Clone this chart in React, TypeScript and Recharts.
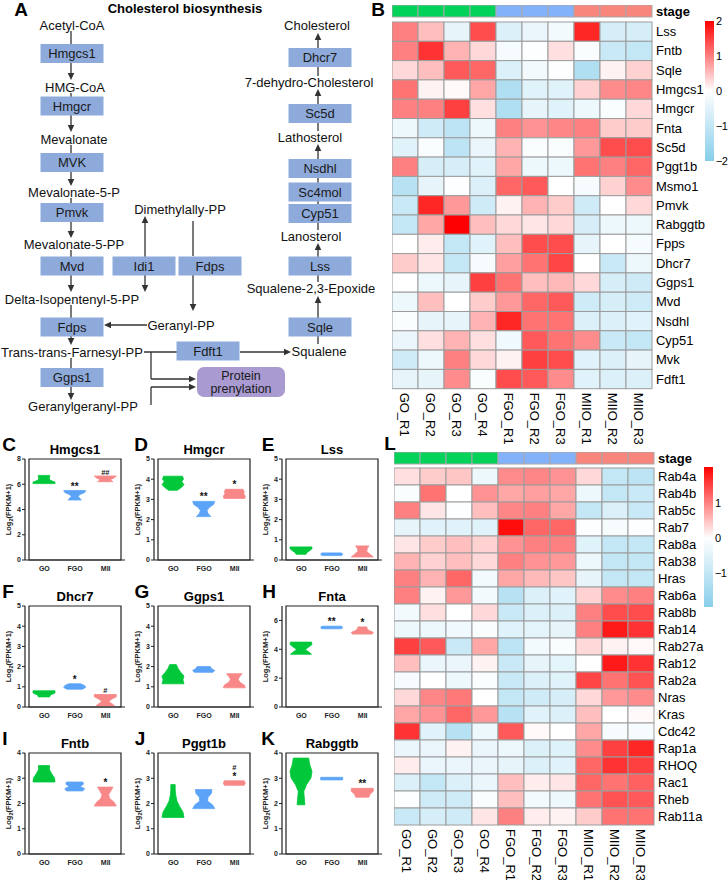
import React from 'react';
import {
  ScatterChart, Scatter, ComposedChart, BarChart, Bar, XAxis, YAxis, ReferenceArea, ReferenceLine,
} from 'recharts';

const FONT = '"Liberation Sans", Arial, Helvetica, sans-serif';

// ---- heatmaps (B, L) ----
const samples = ['GO_R1', 'GO_R2', 'GO_R3', 'GO_R4', 'FGO_R1', 'FGO_R2', 'FGO_R3', 'MIIO_R1', 'MIIO_R2', 'MIIO_R3'];
const sampleStage = ['GO', 'GO', 'GO', 'GO', 'FGO', 'FGO', 'FGO', 'MIIO', 'MIIO', 'MIIO'];

const sterolGenes = ['Lss', 'Fntb', 'Sqle', 'Hmgcs1', 'Hmgcr', 'Fnta', 'Sc5d', 'Pggt1b', 'Msmo1', 'Pmvk',
  'Rabggtb', 'Fpps', 'Dhcr7', 'Ggps1', 'Mvd', 'Nsdhl', 'Cyp51', 'Mvk', 'Fdft1'];
const sterolZ = [
  [1.0, 0.5, -0.4, 1.4, -0.6, -0.35, -0.2, 1.7, -0.7, -0.7],
  [1.0, 1.6, 0.6, 0.3, -0.15, -0.05, 0.25, -0.1, -0.9, -1.0],
  [0.3, 0.5, 1.3, 1.2, -0.6, -0.2, -0.05, -1.3, 0.1, 0.35],
  [1.1, 0.1, 0.05, 0.7, -1.3, -0.5, -0.5, 0.35, 0.9, 0.95],
  [1.0, 1.0, 1.5, 0.25, -1.3, -0.4, -0.5, -0.3, -0.1, 0.3],
  [-0.3, -0.8, -1.1, -0.3, 1.0, 0.85, 0.95, 1.0, 0.4, 0.4],
  [-0.5, -0.1, -1.1, -0.35, 0.6, -0.08, -0.1, 0.8, 1.4, 1.4],
  [1.0, -0.7, -0.7, -0.5, 0.7, -0.3, -0.3, 1.1, 1.0, 1.2],
  [-1.2, -0.4, -0.05, -0.6, 1.2, 1.3, 0.0, -0.15, 0.35, 0.9],
  [-0.9, 1.7, 0.8, -0.8, 0.1, 0.6, 0.4, -0.8, 0.0, 0.3],
  [-1.0, 0.7, 2.0, 0.5, 0.3, 0.2, 0.3, -0.7, -0.3, -0.3],
  [0.0, 0.15, -1.0, -0.5, 0.5, 1.4, 1.4, -0.4, 0.0, -0.15],
  [0.4, 0.2, -1.0, -0.15, 0.75, 1.1, 1.45, 0.0, -0.9, -0.3],
  [0.0, -0.3, -0.4, 1.5, 1.1, 0.5, 0.55, 0.3, -0.7, -0.8],
  [-0.3, 0.5, 0.0, 0.4, 0.8, 1.2, 1.3, -0.8, -0.7, -0.8],
  [-0.1, -0.4, -0.4, 0.6, 1.7, 1.1, 1.1, -0.6, -0.6, -0.5],
  [-0.35, 0.25, 0.6, 0.25, -0.25, 1.3, 1.1, 0.9, -0.9, -1.0],
  [-0.8, -0.3, 1.0, 0.3, 0.1, 1.5, 1.4, -0.5, -0.6, -0.4],
  [-0.4, -0.4, 0.9, -0.1, 1.4, 1.3, 0.9, -0.5, -0.6, -0.6],
];

const rabGenes = ['Rab4a', 'Rab4b', 'Rab5c', 'Rab7', 'Rab8a', 'Rab38', 'Hras', 'Rab6a', 'Rab8b', 'Rab14', 'Rab27a',
  'Rab12', 'Rab2a', 'Nras', 'Kras', 'Cdc42', 'Rap1a', 'RHOQ', 'Rac1', 'Rheb', 'Rab11a'];
const rabZ = [
  [0.25, 0.4, 0.45, -0.3, 0.9, 0.95, 0.85, 0.3, -1.0, -1.1],
  [-0.1, 1.1, 0.0, 0.85, 0.7, 0.75, 0.7, -0.3, -1.0, -0.9],
  [1.0, 0.2, -0.05, 0.5, 0.95, 1.0, 0.7, -1.0, -0.6, -0.9],
  [-0.4, -0.5, -0.5, -0.5, 1.9, 1.2, 1.2, -0.05, -0.15, -0.05],
  [0.2, 0.4, 0.5, 0.35, 0.85, 1.0, 1.0, -0.5, -1.0, -1.0],
  [0.6, 0.35, 0.5, 0.3, 1.0, 0.85, 0.8, -0.3, -1.0, -1.0],
  [1.0, 0.6, 1.2, -0.2, 0.7, 0.55, 0.45, -0.4, -1.0, -1.0],
  [1.0, 0.1, 0.8, -0.2, -1.2, -0.6, -0.5, 0.35, 0.9, 1.0],
  [-0.2, 0.25, 0.0, 0.3, -0.9, -0.6, -0.6, 1.0, 1.4, 1.4],
  [-0.3, -0.3, -0.25, -0.1, -0.5, -0.45, -0.4, 1.0, 1.8, 1.6],
  [1.5, 1.3, -0.9, 0.7, -1.1, -0.2, -0.1, 0.3, 0.1, 0.05],
  [0.5, -0.35, -0.35, 0.1, -0.9, -0.4, -0.45, 0.0, 1.8, 1.6],
  [-0.15, 0.0, -0.3, -0.1, -0.9, -0.6, -0.5, 1.45, 1.1, 1.35],
  [0.3, 0.95, 1.05, 0.0, -1.0, -0.8, -0.7, 0.3, 0.8, 0.9],
  [0.7, 0.85, 1.2, 0.8, -1.2, -0.5, -0.6, 0.5, 0.0, 0.05],
  [1.6, -0.5, -1.2, -0.3, 1.3, 0.05, 0.0, 0.7, -0.15, -0.15],
  [-0.35, -0.35, 0.1, -0.35, -0.3, -0.6, -0.55, 0.9, 1.5, 1.7],
  [0.15, -0.35, -0.35, -0.35, -0.4, -0.6, -0.5, 1.2, 1.6, 1.5],
  [-0.6, -1.0, -0.6, -0.35, 0.5, 0.15, 0.2, 1.2, 1.1, 1.25],
  [-0.05, -0.8, -0.8, -0.1, 0.5, -0.2, -0.3, 1.1, 1.35, 1.3],
  [-0.9, -0.7, -0.8, 0.2, 1.0, 0.15, 0.1, 0.4, 1.1, 1.1],
];

const legendTicksB = [-2, -1, 0, 1, 2];
const legendTicksL = [-1, 0, 1];

// ---- violins (C-K) ----
const stageNames = ['GO', 'FGO', 'MII'];
const hmgcs1Violin = [
  { stage: 'GO', lo: 6.05, hi: 6.7, w: [1.0, 1.0, 0.55, 0.5, 0.5, 0.55], sig: '' },
  { stage: 'FGO', lo: 4.75, hi: 5.5, w: [0.6, 0.45, 0.3, 0.5, 0.9, 1.0], sig: '**' },
  { stage: 'MII', lo: 6.2, hi: 6.65, w: [0.7, 0.45, 0.8, 1.0], sig: '##' },
];
const hmgcrViolin = [
  { stage: 'GO', lo: 3.45, hi: 4.15, w: [0.4, 0.75, 1.0, 0.8, 0.95, 0.85], sig: '' },
  { stage: 'FGO', lo: 2.15, hi: 2.9, w: [0.65, 0.4, 0.3, 0.5, 0.9, 1.0], sig: '**' },
  { stage: 'MII', lo: 3.05, hi: 3.5, w: [0.95, 1.0, 0.85, 0.9, 0.8], sig: '*' },
];
const lssViolin = [
  { stage: 'GO', lo: 0.28, hi: 0.65, w: [0.45, 0.55, 0.8, 1.0, 1.0], sig: '' },
  { stage: 'FGO', lo: 0.22, hi: 0.35, w: [0.9, 1.0, 0.9], sig: '' },
  { stage: 'MII', lo: 0.15, hi: 0.7, w: [1.0, 0.7, 0.4, 0.45, 0.6], sig: '' },
];
const dhcr7Violin = [
  { stage: 'GO', lo: 0.5, hi: 0.8, w: [0.5, 0.6, 1.0, 1.0], sig: '' },
  { stage: 'FGO', lo: 0.88, hi: 1.15, w: [0.7, 1.0, 0.9, 0.55], sig: '*' },
  { stage: 'MII', lo: 0.05, hi: 0.62, w: [0.85, 0.6, 0.3, 0.6, 1.0, 1.0], sig: '#' },
];
const ggps1Violin = [
  { stage: 'GO', lo: 1.15, hi: 2.1, w: [1.0, 0.9, 1.0, 0.7, 0.45, 0.3], sig: '' },
  { stage: 'FGO', lo: 1.72, hi: 2.0, w: [0.85, 1.0, 0.7, 0.6], sig: '' },
  { stage: 'MII', lo: 0.95, hi: 1.65, w: [1.0, 0.9, 0.5, 0.35, 0.5, 0.7], sig: '' },
];
const fntaViolin = [
  { stage: 'GO', lo: 3.65, hi: 4.5, w: [0.95, 0.7, 0.4, 0.7, 1.0, 0.95], sig: '' },
  { stage: 'FGO', lo: 5.42, hi: 5.6, w: [0.9, 1.0, 0.9], sig: '**' },
  { stage: 'MII', lo: 5.05, hi: 5.55, w: [0.9, 1.0, 0.6, 0.45, 0.4], sig: '*' },
];
const fntbViolin = [
  { stage: 'GO', lo: 2.85, hi: 3.5, w: [1.0, 0.95, 0.7, 0.5, 0.5], sig: '' },
  { stage: 'FGO', lo: 2.5, hi: 2.85, w: [0.75, 0.9, 0.5, 0.8, 0.75], sig: '' },
  { stage: 'MII', lo: 1.9, hi: 2.65, w: [1.0, 0.8, 0.4, 0.3, 0.5, 0.7], sig: '*' },
];
const pggt1bViolin = [
  { stage: 'GO', lo: 1.45, hi: 2.75, w: [1.0, 0.9, 0.6, 0.35, 0.25, 0.2, 0.2], sig: '' },
  { stage: 'FGO', lo: 1.8, hi: 2.55, w: [1.0, 0.8, 0.35, 0.4, 0.7, 0.75], sig: '' },
  { stage: 'MII', lo: 2.72, hi: 2.9, w: [0.9, 1.0, 0.9], sig: '#|*' },
];
const rabggtbViolin = [
  { stage: 'GO', lo: 1.95, hi: 3.8, w: [0.35, 0.3, 0.25, 0.5, 0.9, 1.0, 0.8, 0.7], sig: '' },
  { stage: 'FGO', lo: 2.95, hi: 3.02, w: [1.0, 1.0], sig: '' },
  { stage: 'MII', lo: 2.25, hi: 2.6, w: [0.6, 0.7, 1.0, 1.0], sig: '**' },
];

// ---- pathway (A) ----
const metabolites = [
  { label: 'Acetyl-CoA', x: 72, y: 25 },
  { label: 'HMG-CoA', x: 75, y: 87 },
  { label: 'Mevalonate', x: 74, y: 139 },
  { label: 'Mevalonate-5-P', x: 74, y: 192 },
  { label: 'Mevalonate-5-PP', x: 74, y: 244 },
  { label: 'Delta-Isopentenyl-5-PP', x: 72, y: 299 },
  { label: 'Trans-trans-Farnesyl-PP', x: 72, y: 352 },
  { label: 'Geranylgeranyl-PP', x: 83, y: 406 },
  { label: 'Dimethylally-PP', x: 180, y: 209 },
  { label: 'Geranyl-PP', x: 181, y: 325 },
  { label: 'Cholesterol', x: 317, y: 25 },
  { label: '7-dehydro-Cholesterol', x: 309, y: 82 },
  { label: 'Lathosterol', x: 310, y: 137 },
  { label: 'Lanosterol', x: 311, y: 236 },
  { label: 'Squalene-2,3-Epoxide', x: 311, y: 288 },
  { label: 'Squalene', x: 319, y: 351 },
];
const enzymes = [
  { label: 'Hmgcs1', x: 72, y: 53.5 },
  { label: 'Hmgcr', x: 72, y: 106 },
  { label: 'MVK', x: 72, y: 162.5 },
  { label: 'Pmvk', x: 72, y: 212.5 },
  { label: 'Mvd', x: 72, y: 266 },
  { label: 'Fdps', x: 72, y: 327 },
  { label: 'Ggps1', x: 72, y: 377.5 },
  { label: 'Idi1', x: 144, y: 266 },
  { label: 'Fdps', x: 210, y: 266 },
  { label: 'Fdft1', x: 208, y: 351 },
  { label: 'Dhcr7', x: 320, y: 57.5 },
  { label: 'Sc5d', x: 320, y: 113.5 },
  { label: 'Nsdhl', x: 320, y: 168.5 },
  { label: 'Sc4mol', x: 320, y: 192 },
  { label: 'Cyp51', x: 320, y: 213.5 },
  { label: 'Lss', x: 320, y: 266 },
  { label: 'Sqle', x: 320, y: 327 },
];
const processes = [{ label: 'Protein|prenylation', x: 241, y: 382 }];
// x1, y1, x2, y2, arrowhead
const pathwayLinks: [number, number, number, number, boolean][] = [
  [71, 31, 71, 44, false], [71, 63, 71, 80, true],
  [71, 93, 71, 97, false], [71, 115, 71, 132, true],
  [71, 145, 71, 153, false], [71, 172, 71, 186, true],
  [71, 198, 71, 203, false], [71, 222, 71, 238, true],
  [71, 250, 71, 257, false], [71, 275, 71, 292, true],
  [71, 305, 71, 318, false], [71, 336, 71, 345, true],
  [71, 358, 71, 368, false], [71, 387, 71, 400, true],
  [145, 257, 145, 216, true], [145, 275, 145, 292, true],
  [193, 221, 193, 256, false], [193, 275, 193, 311, true],
  [147, 325, 104, 325, true],
  [144, 352, 177, 352, false], [240, 352, 291, 352, true],
  [151, 352, 151, 379, false], [151, 379, 196, 379, true],
  [151, 405, 151, 387, false], [151, 387, 196, 387, true],
  [318, 344, 318, 336, false], [318, 318, 318, 296, true],
  [318, 282, 318, 275, false], [318, 257, 318, 243, true],
  [318, 230, 318, 223, false], [318, 204, 318, 201, false], [318, 183, 318, 178, false],
  [318, 159, 318, 144, true],
  [318, 131, 318, 123, false], [318, 104, 318, 89, true],
  [318, 76, 318, 67, false], [318, 48, 318, 33, true],
];

const stageFill: Record<string, string> = { GO: '#00D25A', FGO: '#84B2FA', MIIO: '#F8867C' };
const violinFill: Record<string, string> = { GO: '#00C83A', FGO: '#5AA3F7', MII: '#F88888' };

function heatColor(v: number) {
  const t = Math.max(-1, Math.min(1, v / 2));
  const mix = (a: number, b: number, f: number) => Math.round(a + (b - a) * f);
  if (t >= 0) return `rgb(255,${mix(255, 0, t)},${mix(255, 0, t)})`;
  const f = -t;
  return `rgb(${mix(255, 135, f)},${mix(255, 206, f)},${mix(255, 235, f)})`;
}

const minus = (v: number) => (v < 0 ? `\u2212${Math.abs(v)}` : `${v}`);

function Txt({ x, y, size, bold, children }: any) {
  return (
    <div style={{
      position: 'absolute', left: x, top: y, transform: 'translate(-50%, -50%)', whiteSpace: 'nowrap',
      fontFamily: FONT, fontSize: size, fontWeight: bold ? 700 : 400, lineHeight: 1, color: '#000',
    }}>{children}</div>
  );
}

function Heatmap({ genes, matrix, left, top, gridTop, rowH }: any) {
  const plotW = 260;
  const colW = plotW / samples.length;
  const n = genes.length;
  const stageRow = -0.5 - (gridTop - (top + 6)) / rowH;
  const yMin = -0.5 - (gridTop - top) / rowH;
  const plotH = (n - 0.5 - yMin) * rowH;
  const cells = matrix.flatMap((row: number[], i: number) => row.map((v, j) => ({ col: j, row: i, v })));
  const stages = samples.map((s, j) => ({ col: j, row: stageRow, stage: sampleStage[j] }));
  const yTicks = [stageRow, ...genes.map((g: string, i: number) => i)];
  return (
    <div style={{ position: 'absolute', left, top }}>
      <ScatterChart width={plotW + 72} height={plotH + 58} margin={{ top: 0, right: 0, bottom: 0, left: 0 }}>
        <XAxis type="number" dataKey="col" domain={[-0.5, samples.length - 0.5]} ticks={samples.map((s, j) => j)}
          interval={0} height={58} axisLine={false} tickLine={false} tickSize={0} tickMargin={4}
          tick={(p: any) => (
            <text x={p.x} y={p.y} transform={`rotate(90 ${p.x} ${p.y})`} textAnchor="start" dy="0.35em"
              fontSize={13} fontFamily={FONT} fill="#000">{samples[Math.round(p.payload.value)]}</text>
          )} />
        <YAxis type="number" dataKey="row" orientation="right" reversed domain={[yMin, n - 0.5]} ticks={yTicks}
          interval={0} width={72} axisLine={false} tickLine={false} tickSize={0} tickMargin={4}
          tick={(p: any) => {
            const isStage = p.payload.value < -0.5;
            return (
              <text x={p.x} y={p.y} dy="0.35em" textAnchor="start" fontSize={13} fontFamily={FONT}
                fontWeight={isStage ? 700 : 400} fill="#000">
                {isStage ? 'stage' : genes[Math.round(p.payload.value)]}
              </text>
            );
          }} />
        <Scatter data={stages} isAnimationActive={false}
          shape={(p: any) => (
            <rect x={p.cx - colW / 2} y={p.cy - 6} width={colW} height={12}
              fill={stageFill[p.payload.stage]} stroke="#a8a8a8" strokeWidth={1} />
          )} />
        <Scatter data={cells} isAnimationActive={false}
          shape={(p: any) => (
            <rect x={p.cx - colW / 2} y={p.cy - rowH / 2} width={colW} height={rowH}
              fill={heatColor(p.payload.v)} stroke="#9c9c9c" strokeWidth={1} />
          )} />
      </ScatterChart>
    </div>
  );
}

function ColorKey({ id, left, top, min, max, ticks }: any) {
  const plotH = 140;
  const stops = [max, 0, min].map((v) => ({ off: (max - v) / (max - min), c: heatColor(v) }));
  const keyData = [{ key: 'scale', span: [min, max] }];
  return (
    <div style={{ position: 'absolute', left, top: top - 7 }}>
      <BarChart width={34} height={plotH + 14} data={keyData} barCategoryGap={0}
        margin={{ top: 7, right: 0, bottom: 7, left: 0 }}>
        <defs>
          <linearGradient id={id} x1="0" y1="0" x2="0" y2="1">
            {stops.map((s) => <stop key={s.off} offset={s.off} stopColor={s.c} />)}
          </linearGradient>
        </defs>
        <XAxis dataKey="key" type="category" hide />
        <YAxis type="number" orientation="right" domain={[min, max]} ticks={ticks} interval={0} width={24}
          axisLine={false} tickLine={false} tickSize={0} tickMargin={2} tickFormatter={minus}
          tick={{ fontSize: 11, fontFamily: FONT, fill: '#000', textAnchor: 'start', letterSpacing: -0.6 }} />
        <Bar dataKey="span" fill={`url(#${id})`} barSize={10} isAnimationActive={false} />
      </BarChart>
    </div>
  );
}

const ViolinShape = (p: any) => {
  const { x, width, payload } = p;
  let top = Math.min(p.y, p.y + p.height);
  let h = Math.abs(p.height);
  if (h < 2.6) { top -= (2.6 - h) / 2; h = 2.6; }
  const cx = x + width / 2;
  const half = width / 2;
  const w: number[] = payload.w;
  const n = w.length;
  const right = w.map((r, i) => [cx + r * half, top + h - (i / (n - 1)) * h]);
  const leftSide = w.map((r, i) => [cx - r * half, top + h - (i / (n - 1)) * h]).reverse();
  const d = [...right, ...leftSide].map((q, i) => `${i ? 'L' : 'M'}${q[0].toFixed(1)},${q[1].toFixed(1)}`).join('') + 'Z';
  const c = violinFill[payload.stage];
  const sig: string[] = payload.sig ? payload.sig.split('|') : [];
  return (
    <g>
      <path d={d} fill={c} stroke={c} strokeWidth={0.8} strokeLinejoin="round" />
      {sig.map((s, k) => (
        <text key={k} x={cx} y={top - 1 - (sig.length - 1 - k) * 10} textAnchor="middle" fontSize={s.includes('#') ? 7.5 : 10}
          fontWeight={700} fontFamily={FONT} fill="#111">{s}</text>
      ))}
    </g>
  );
};

function ViolinPanel({ letter, letterX, title, left, top, data, yMax, yTicks }: any) {
  const plotW = 100;
  const plotH = 101;
  return (
    <>
      <Txt x={letterX} y={top - 15} size={19} bold>{letter}</Txt>
      <Txt x={left + plotW / 2} y={top - 10} size={13} bold>{title}</Txt>
      <div style={{ position: 'absolute', left: left - 25, top: top - 16 }}>
        <ComposedChart width={25 + plotW + 4} height={16 + plotH + 14} data={data}
          margin={{ top: 16, right: 4, bottom: 0, left: 0 }}>
          <XAxis dataKey="stage" type="category" ticks={stageNames} height={14} interval={0}
            padding={{ left: 4, right: 4 }} tickLine={false} tickSize={0} tickMargin={6}
            axisLine={{ stroke: '#222', strokeWidth: 1.2 }}
            tick={{ fontSize: 7, fontWeight: 700, fontFamily: FONT, fill: '#222' }} />
          <YAxis type="number" domain={[0, yMax]} ticks={yTicks} interval={0} width={25}
            tickSize={3} tickMargin={1} axisLine={{ stroke: '#222', strokeWidth: 1.2 }}
            tickLine={{ stroke: '#222', strokeWidth: 1 }}
            tick={{ fontSize: 7, fontWeight: 700, fontFamily: FONT, fill: '#222' }}
            label={{
              content: (lp: any) => {
                const vb = lp.viewBox;
                const lx = vb.x + 8;
                const ly = vb.y + vb.height / 2;
                return (
                  <text x={lx} y={ly} transform={`rotate(-90 ${lx} ${ly})`} textAnchor="middle" dy="0.35em"
                    fontSize={7.5} fontWeight={700} fontFamily={FONT} fill="#222">
                    <tspan>Log</tspan><tspan fontSize={5.5} dy={2}>2</tspan><tspan dy={-2}>(FPKM+1)</tspan>
                  </text>
                );
              },
            }} />
          <ReferenceArea y1={0} y2={yMax} fill="none" stroke="#222" strokeWidth={1.2} ifOverflow="visible" />
          <Bar dataKey={(d: any) => [d.lo, d.hi]} barSize={22} shape={ViolinShape} isAnimationActive={false} />
        </ComposedChart>
      </div>
    </>
  );
}

const NodeShape = (p: any) => {
  const { cx, cy, payload } = p;
  if (payload.kind === 'enzyme') {
    return (
      <g>
        <rect x={cx - 31.5} y={cy - 9.5} width={63} height={19} fill="#8EAADB" />
        <text x={cx} y={cy} dy="0.36em" textAnchor="middle" fontSize={13} fontFamily={FONT} fill="#1a1a1a">{payload.label}</text>
      </g>
    );
  }
  if (payload.kind === 'process') {
    const [a, b] = payload.label.split('|');
    return (
      <g>
        <rect x={cx - 44} y={cy - 15} width={88} height={30} rx={7} fill="#A99AD2" />
        <text x={cx} y={cy - 6.5} dy="0.36em" textAnchor="middle" fontSize={12.5} fontFamily={FONT} fill="#1a1a1a">{a}</text>
        <text x={cx} y={cy + 6.5} dy="0.36em" textAnchor="middle" fontSize={12.5} fontFamily={FONT} fill="#1a1a1a">{b}</text>
      </g>
    );
  }
  return (
    <text x={cx} y={cy} dy="0.36em" textAnchor="middle" fontSize={13} fontFamily={FONT} fill="#111">{payload.label}</text>
  );
};

const arrowShape = (head: boolean) => (p: any) => {
  const { x1, y1, x2, y2 } = p;
  const ang = Math.atan2(y2 - y1, x2 - x1);
  const L = 7;
  const W = 3.3;
  const bx = head ? x2 - L * Math.cos(ang) : x2;
  const by = head ? y2 - L * Math.sin(ang) : y2;
  const px = -Math.sin(ang) * W;
  const py = Math.cos(ang) * W;
  return (
    <g>
      <line x1={x1} y1={y1} x2={bx} y2={by} stroke="#333" strokeWidth={1.3} />
      {head && <polygon points={`${x2},${y2} ${bx + px},${by + py} ${bx - px},${by - py}`} fill="#333" />}
    </g>
  );
};

function Pathway() {
  const nodes = [
    ...metabolites.map((m) => ({ ...m, kind: 'metabolite' })),
    ...enzymes.map((m) => ({ ...m, kind: 'enzyme' })),
    ...processes.map((m) => ({ ...m, kind: 'process' })),
  ];
  return (
    <div style={{ position: 'absolute', left: 0, top: 0 }}>
      <ScatterChart width={390} height={418} margin={{ top: 0, right: 0, bottom: 0, left: 0 }}>
        <XAxis type="number" dataKey="x" domain={[0, 390]} hide />
        <YAxis type="number" dataKey="y" domain={[0, 418]} reversed hide />
        {pathwayLinks.map((l, i) => (
          <ReferenceLine key={i} segment={[{ x: l[0], y: l[1] }, { x: l[2], y: l[3] }]} shape={arrowShape(l[4])} />
        ))}
        <Scatter data={nodes} shape={NodeShape} isAnimationActive={false} />
      </ScatterChart>
    </div>
  );
}

export default function App() {
  return (
    <div style={{ position: 'absolute', left: 0, top: 0, width: 728, height: 880, background: '#fff', overflow: 'hidden', fontFamily: FONT }}>
      <Pathway />
      <Txt x={21} y={9} size={19} bold>A</Txt>
      <Txt x={185} y={8} size={13} bold>Cholesterol biosynthesis</Txt>

      <Txt x={378} y={9} size={19} bold>B</Txt>
      <Heatmap genes={sterolGenes} matrix={sterolZ} left={392} top={5} gridTop={22} rowH={19.3} />
      <ColorKey id="keyB" left={704} top={21} min={-2} max={2} ticks={legendTicksB} />

      <Txt x={390} y={443} size={19} bold>L</Txt>
      <Heatmap genes={rabGenes} matrix={rabZ} left={394} top={452} gridTop={468} rowH={17} />
      <ColorKey id="keyL" left={703} top={467} min={-1.99} max={2.05} ticks={legendTicksL} />

      <ViolinPanel letter="C" letterX={9} title="Hmgcs1" left={25} top={459} data={hmgcs1Violin} yMax={8} yTicks={[0, 2, 4, 6, 8]} />
      <ViolinPanel letter="D" letterX={141} title="Hmgcr" left={154} top={459} data={hmgcrViolin} yMax={5} yTicks={[0, 1, 2, 3, 4, 5]} />
      <ViolinPanel letter="E" letterX={268} title="Lss" left={282} top={459} data={lssViolin} yMax={5} yTicks={[0, 1, 2, 3, 4, 5]} />
      <ViolinPanel letter="F" letterX={8} title="Dhcr7" left={25} top={606} data={dhcr7Violin} yMax={5} yTicks={[0, 1, 2, 3, 4, 5]} />
      <ViolinPanel letter="G" letterX={142} title="Ggps1" left={154} top={606} data={ggps1Violin} yMax={5} yTicks={[0, 1, 2, 3, 4, 5]} />
      <ViolinPanel letter="H" letterX={269} title="Fnta" left={282} top={606} data={fntaViolin} yMax={7} yTicks={[0, 2, 4, 6]} />
      <ViolinPanel letter="I" letterX={5} title="Fntb" left={25} top={753} data={fntbViolin} yMax={4} yTicks={[0, 1, 2, 3, 4]} />
      <ViolinPanel letter="J" letterX={140} title="Pggt1b" left={154} top={753} data={pggt1bViolin} yMax={4} yTicks={[0, 1, 2, 3, 4]} />
      <ViolinPanel letter="K" letterX={268} title="Rabggtb" left={282} top={753} data={rabggtbViolin} yMax={4} yTicks={[0, 1, 2, 3, 4]} />
    </div>
  );
}
